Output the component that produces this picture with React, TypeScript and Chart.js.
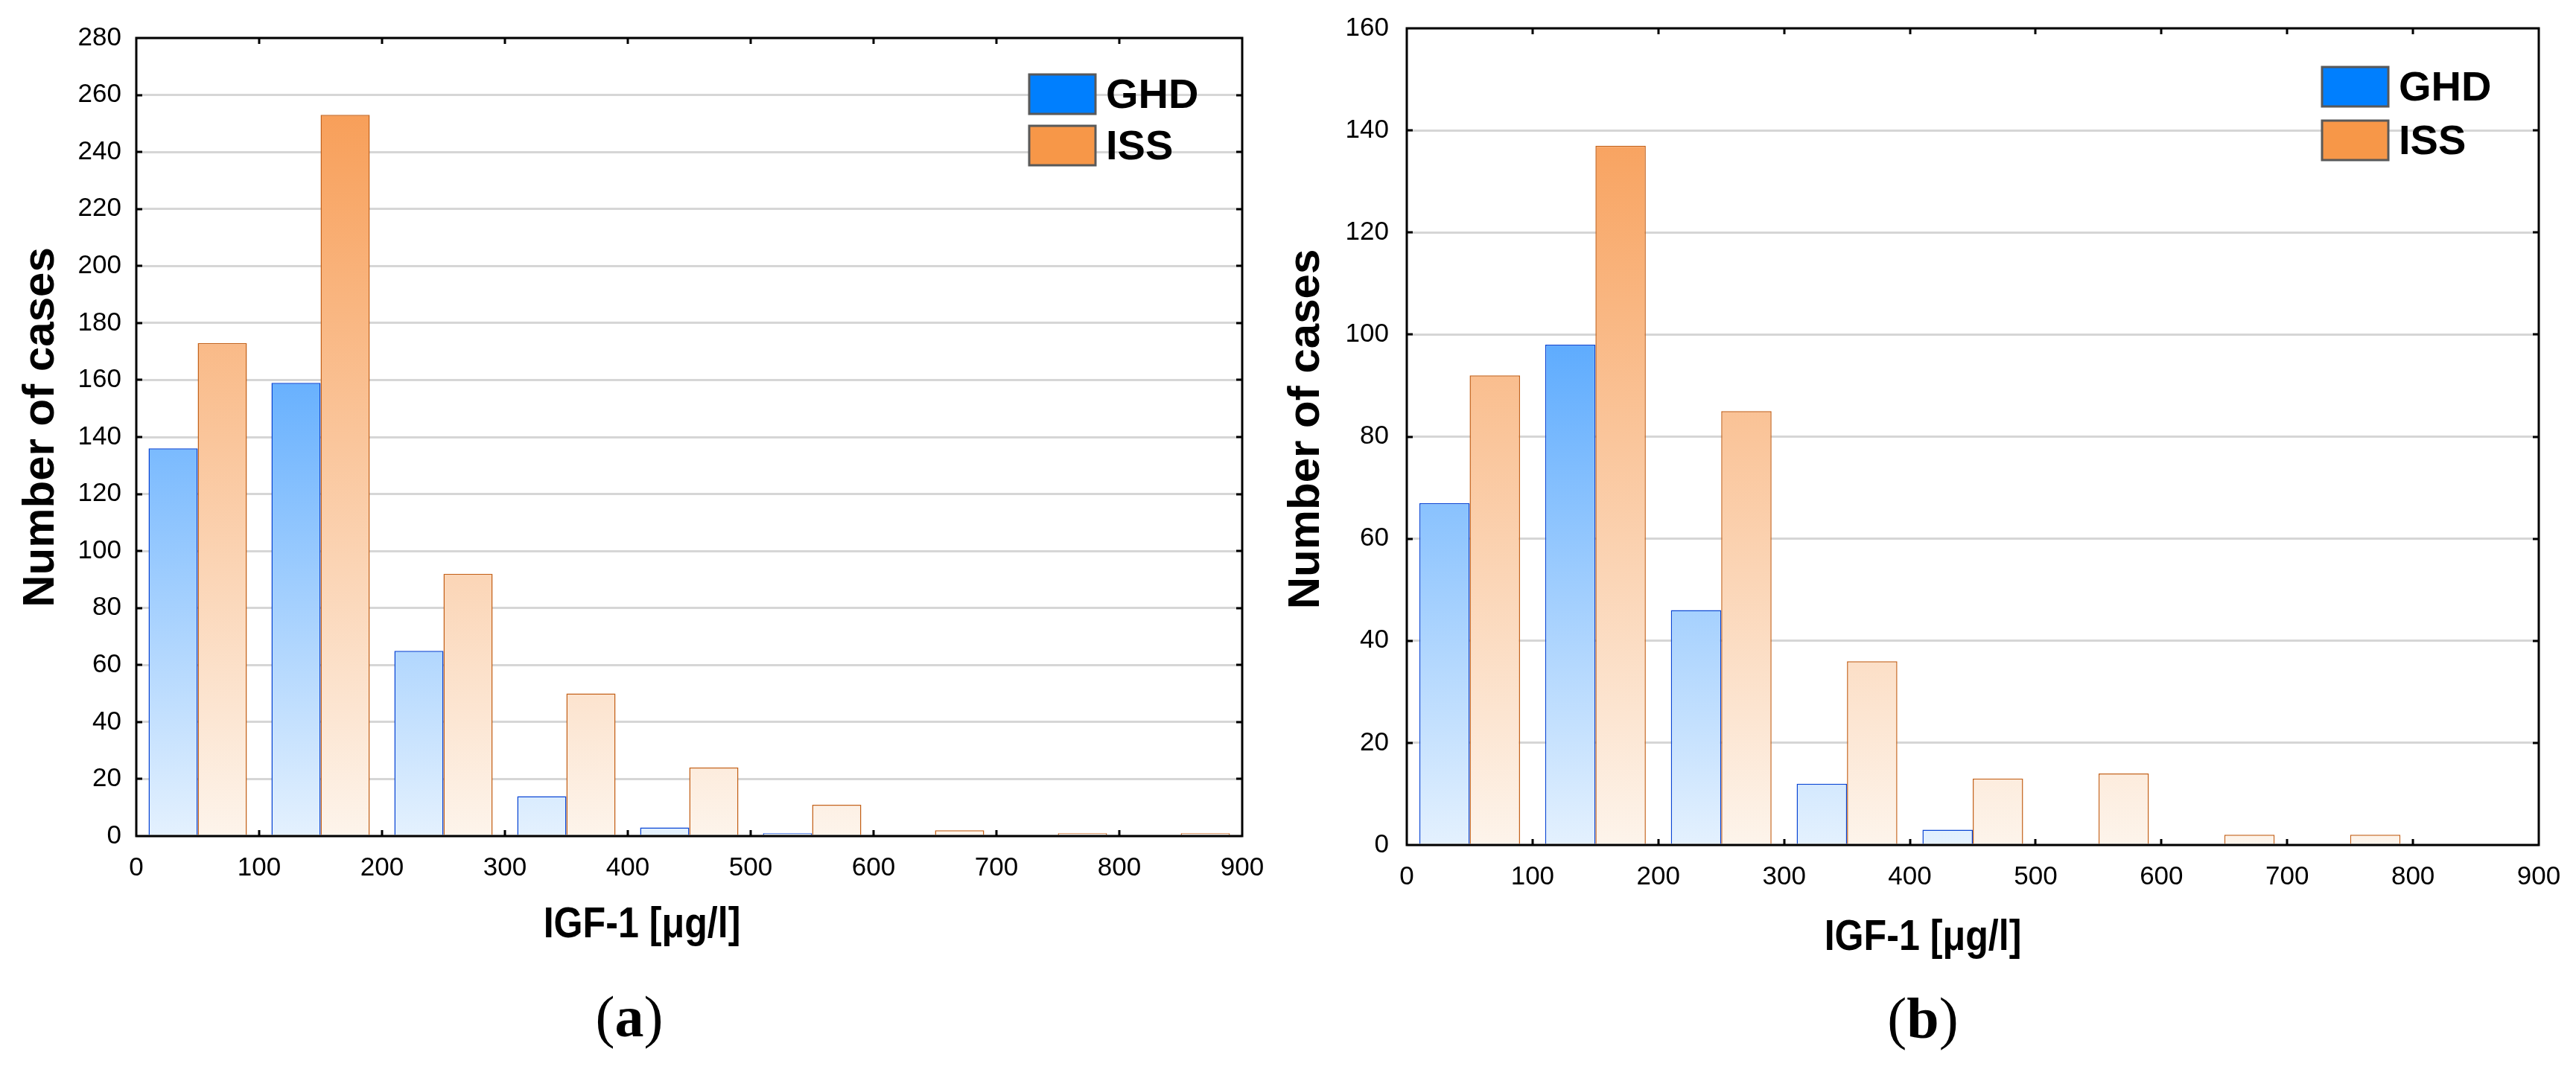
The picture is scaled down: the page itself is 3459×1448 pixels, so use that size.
import React, { useEffect, useRef } from "react";
import { Chart, registerables } from "chart.js";

Chart.register(...registerables);

// ---------- data ----------
const BIN_STARTS = [0, 100, 200, 300, 400, 500, 600, 700, 800];
const BIN_WIDTH = 100;
const X_MIN = 0;
const X_MAX = 900;
const X_STEP = 100;
const Y_STEP = 20;
const SERIES = ["GHD", "ISS"];

const GHD_A = [136, 159, 65, 14, 3, 1, 0, 0, 0];
const ISS_A = [173, 253, 92, 50, 24, 11, 2, 1, 1];
const Y_MAX_A = 280;

const GHD_B = [67, 98, 46, 12, 3, 0, 0, 0, 0];
const ISS_B = [92, 137, 85, 36, 13, 14, 2, 2, 0];
const Y_MAX_B = 160;

const X_TITLE = "IGF-1 [\u03bcg/l]";
const Y_TITLE = "Number of cases";

// ---------- styles ----------
const SANS = "'Liberation Sans', Arial, sans-serif";
const SERIF = "'Liberation Serif', 'Times New Roman', serif";
const STYLE: Record<string, { top: string; bottom: string; border: string; legend: string }> = {
  GHD: { top: "#0a80fe", bottom: "#e4f1fe", border: "#0a46d4", legend: "#007ffe" },
  ISS: { top: "#f7964a", bottom: "#fdf4eb", border: "#c4621a", legend: "#f79748" },
};

type Layout = {
  left: number;
  width: number;
  height: number;
  plotLeft: number;
  plotRight: number;
  plotTop: number;
  plotBottom: number;
  xTitleX: number;
  xTitleY: number;
  yTitleX: number;
  yTitleShift: number;
  captionX: number;
  captionY: number;
  legendRight: number;
  legendTop: number;
  legendPitch: number;
  yTickPad: number;
};

const LAYOUT_A: Layout = {
  left: 0, width: 1700, height: 1448,
  plotLeft: 183, plotRight: 1668, plotTop: 51, plotBottom: 1123,
  xTitleX: 862, xTitleY: 1259, yTitleX: 55, yTitleShift: -13, captionX: 845, captionY: 1372,
  legendRight: 286, legendTop: 49, legendPitch: 69,
  yTickPad: 20,
};
const LAYOUT_B: Layout = {
  left: 1700, width: 1759, height: 1448,
  plotLeft: 189, plotRight: 1709, plotTop: 38, plotBottom: 1135,
  xTitleX: 882, xTitleY: 1276, yTitleX: 54, yTitleShift: -10, captionX: 882, captionY: 1374,
  legendRight: 291, legendTop: 52, legendPitch: 72,
  yTickPad: 24,
};

const X_AXIS_HEIGHT = 100;

const gradientFill = (top: string, bottom: string) => (ctx: any) => {
  const chart = ctx.chart;
  const area = chart.chartArea;
  if (!area) return bottom;
  const g = chart.ctx.createLinearGradient(0, area.bottom, 0, area.top);
  g.addColorStop(0, bottom);
  g.addColorStop(1, top);
  return g;
};

const framePlugin = {
  id: "frameTicks",
  afterDatasetsDraw(chart: any, _a: any, opts: any) {
    const { ctx, chartArea } = chart;
    const { left, right, top, bottom } = chartArea;
    const xs = chart.scales.x;
    const ys = chart.scales.y;
    const L = opts.tickLength;
    ctx.save();
    ctx.strokeStyle = "#000";
    ctx.lineWidth = opts.lineWidth;
    ctx.beginPath();
    xs.ticks.forEach((t: any) => {
      if (t.value <= xs.min || t.value >= xs.max) return;
      const px = Math.round(xs.getPixelForValue(t.value));
      ctx.moveTo(px, bottom);
      ctx.lineTo(px, bottom - L);
      ctx.moveTo(px, top);
      ctx.lineTo(px, top + L);
    });
    ys.ticks.forEach((t: any) => {
      if (t.value <= ys.min || t.value >= ys.max) return;
      const py = Math.round(ys.getPixelForValue(t.value));
      ctx.moveTo(left, py);
      ctx.lineTo(left + L, py);
      ctx.moveTo(right, py);
      ctx.lineTo(right - L, py);
    });
    ctx.stroke();
    ctx.lineWidth = opts.frameWidth;
    ctx.strokeRect(left, top, right - left, bottom - top);
    ctx.restore();
  },
};

const legendPlugin = {
  id: "boxLegend",
  afterDraw(chart: any, _a: any, opts: any) {
    const { ctx, chartArea } = chart;
    const x0 = chartArea.right - opts.right;
    ctx.save();
    chart.data.datasets.forEach((ds: any, i: number) => {
      const y0 = chartArea.top + opts.top + i * opts.pitch;
      ctx.fillStyle = STYLE[ds.label].legend;
      ctx.fillRect(x0, y0, opts.boxWidth, opts.boxHeight);
      ctx.strokeStyle = opts.borderColor;
      ctx.lineWidth = opts.borderWidth;
      ctx.strokeRect(x0, y0, opts.boxWidth, opts.boxHeight);
      ctx.fillStyle = "#000";
      ctx.font = opts.font;
      ctx.textAlign = "left";
      ctx.textBaseline = "alphabetic";
      ctx.fillText(ds.label, x0 + opts.boxWidth + opts.textGap, y0 + opts.baseline);
    });
    ctx.restore();
  },
};

const textPlugin = {
  id: "panelText",
  afterDraw(chart: any, _a: any, opts: any) {
    const { ctx, chartArea } = chart;
    ctx.save();
    ctx.fillStyle = "#000";

    // x-axis title (slightly condensed face like the original)
    ctx.save();
    ctx.font = opts.xTitleFont;
    ctx.textAlign = "center";
    ctx.textBaseline = "alphabetic";
    ctx.translate(opts.xTitleX, opts.xTitleY);
    ctx.scale(opts.xTitleCondense, 1);
    ctx.fillText(opts.xTitle, 0, 0);
    ctx.restore();

    // y-axis title
    ctx.save();
    ctx.font = opts.yTitleFont;
    ctx.textAlign = "center";
    ctx.textBaseline = "middle";
    ctx.translate(opts.yTitleX, (chartArea.top + chartArea.bottom) / 2 + opts.yTitleShift);
    ctx.rotate(-Math.PI / 2);
    ctx.fillText(opts.yTitle, 0, 0);
    ctx.restore();

    // caption "(x)" with bold letter
    const regular = `${opts.captionSize}px ${SERIF}`;
    const bold = `bold ${opts.captionSize}px ${SERIF}`;
    ctx.font = regular;
    const wp = ctx.measureText("(").width;
    const wq = ctx.measureText(")").width;
    ctx.font = bold;
    const wl = ctx.measureText(opts.letter).width;
    let x = opts.captionX - (wp + wl + wq) / 2;
    ctx.textAlign = "left";
    ctx.textBaseline = "middle";
    ctx.font = regular;
    ctx.fillText("(", x, opts.captionY);
    x += wp;
    ctx.font = bold;
    ctx.fillText(opts.letter, x, opts.captionY);
    x += wl;
    ctx.font = regular;
    ctx.fillText(")", x, opts.captionY);
    ctx.restore();
  },
};

function Panel(props: { ghd: number[]; iss: number[]; yMax: number; letter: string; layout: Layout }) {
  const ref = useRef<HTMLCanvasElement>(null);
  const { ghd, iss, yMax, letter, layout } = props;

  useEffect(() => {
    const centers = BIN_STARTS.map((s) => s + BIN_WIDTH / 2);
    const seriesValues = [ghd, iss];
    const datasets = SERIES.map((name, k) => ({
      label: name,
      data: seriesValues[k].map((v, i) => ({ x: centers[i], y: v })),
      backgroundColor: gradientFill(STYLE[name].top, STYLE[name].bottom),
      borderColor: STYLE[name].border,
      borderWidth: 1.5,
      inflateAmount: 0,
      categoryPercentage: 0.8,
      barPercentage: 1.0,
    }));

    const chart = new Chart(ref.current as HTMLCanvasElement, {
      type: "bar",
      data: { datasets } as any,
      plugins: [framePlugin, legendPlugin, textPlugin],
      options: {
        animation: false,
        responsive: false,
        devicePixelRatio: 1,
        layout: {
          padding: {
            left: 0,
            top: layout.plotTop,
            right: layout.width - layout.plotRight,
            bottom: layout.height - layout.plotBottom - X_AXIS_HEIGHT,
          },
        },
        scales: {
          x: {
            type: "linear",
            min: X_MIN,
            max: X_MAX,
            offset: false,
            grid: { display: false, offset: false, drawTicks: false },
            border: { display: false },
            ticks: {
              stepSize: X_STEP,
              autoSkip: false,
              maxRotation: 0,
              padding: 22,
              color: "#000",
              font: { family: SANS, size: 35 },
            },
            afterFit: (scale: any) => {
              scale.height = X_AXIS_HEIGHT;
              scale.paddingLeft = 0;
              scale.paddingRight = 0;
            },
          },
          y: {
            type: "linear",
            min: 0,
            max: yMax,
            grid: { color: "#d6d6d6", lineWidth: 3, drawTicks: false },
            border: { display: false },
            ticks: {
              stepSize: Y_STEP,
              padding: layout.yTickPad,
              color: "#000",
              font: { family: SANS, size: 35 },
            },
            title: { display: false },
            afterFit: (scale: any) => {
              scale.width = layout.plotLeft;
              scale.paddingTop = 0;
              scale.paddingBottom = 0;
            },
          },
        },
        plugins: {
          legend: { display: false },
          tooltip: { enabled: false },
          frameTicks: { lineWidth: 3, frameWidth: 3, tickLength: 8 },
          boxLegend: {
            right: layout.legendRight,
            top: layout.legendTop,
            pitch: layout.legendPitch,
            boxWidth: 89,
            boxHeight: 53,
            borderColor: "#595959",
            borderWidth: 3,
            textGap: 14,
            baseline: 45,
            font: `bold 56px ${SANS}`,
          },
          panelText: {
            xTitle: X_TITLE,
            xTitleFont: `bold 57px ${SANS}`,
            xTitleCondense: 0.88,
            xTitleX: layout.xTitleX,
            xTitleY: layout.xTitleY,
            yTitle: Y_TITLE,
            yTitleFont: `bold 60px ${SANS}`,
            yTitleX: layout.yTitleX,
            yTitleShift: layout.yTitleShift,
            letter,
            captionSize: 78,
            captionX: layout.captionX,
            captionY: layout.captionY,
          },
        } as any,
      } as any,
    });
    return () => chart.destroy();
  }, [ghd, iss, yMax, letter, layout]);

  return (
    <canvas
      ref={ref}
      width={layout.width}
      height={layout.height}
      style={{ position: "absolute", left: layout.left, top: 0, width: layout.width, height: layout.height }}
    />
  );
}

export default function App() {
  return (
    <div style={{ position: "fixed", left: 0, top: 0, width: 3459, height: 1448, background: "#fff" }}>
      <Panel ghd={GHD_A} iss={ISS_A} yMax={Y_MAX_A} letter="a" layout={LAYOUT_A} />
      <Panel ghd={GHD_B} iss={ISS_B} yMax={Y_MAX_B} letter="b" layout={LAYOUT_B} />
    </div>
  );
}
